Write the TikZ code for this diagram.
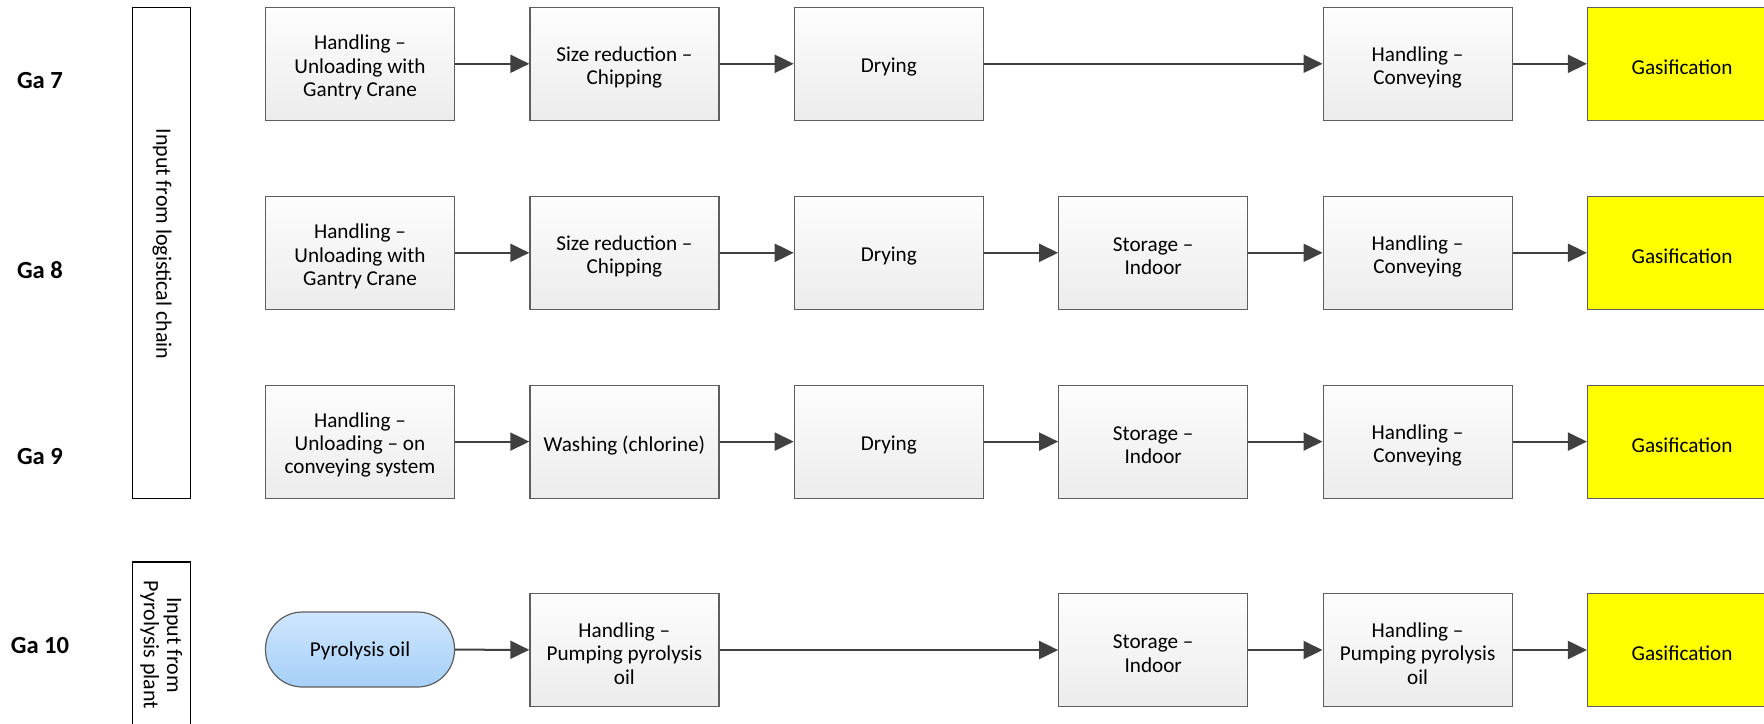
\documentclass[tikz,border=0pt]{standalone}
\usepackage{fontspec}
\setmainfont{Carlito}
\usetikzlibrary{arrows.meta}
\definecolor{boxedge}{HTML}{5E5E5E}
\definecolor{flowline}{HTML}{404040}
\definecolor{gasyellow}{HTML}{FFFF00}
\definecolor{boxtop}{HTML}{FDFDFD}
\definecolor{boxbot}{HTML}{ECECEC}
\definecolor{oiltop}{HTML}{CFE7FF}
\definecolor{oilbot}{HTML}{A6CFF8}
\begin{document}
\begin{tikzpicture}[x=0.5pt,y=-0.5pt,
  boxtext/.style={inner sep=0pt, align=center, yshift=-1.8pt,
    font=\fontsize{10.6}{11.6}\selectfont},
  shapebase/.style={draw=boxedge, line width=0.6pt, inner sep=0pt,
    minimum width=94.5pt, minimum height=56.5pt},
  proc/.style={shapebase, top color=boxtop, bottom color=boxbot,
    label={[boxtext]center:{#1}}},
  gasbox/.style={shapebase, fill=gasyellow, label={[boxtext]center:{#1}}},
  oilbox/.style={draw=boxedge, line width=0.6pt, top color=oiltop, bottom color=oilbot,
    rounded corners=18.5pt, minimum width=94.5pt, minimum height=37.5pt, inner sep=0pt,
    label={[boxtext, yshift=1pt]center:{#1}}},
  inbox/.style={draw=black, line width=0.6pt, fill=white, inner sep=0pt},
  intext/.style={rotate=-90, align=center, inner sep=0pt,
    font=\fontsize{11}{11.6}\selectfont},
  galabel/.style={font=\fontsize{12.3}{14}\bfseries\selectfont, inner sep=0pt},
  flow/.style={draw=flowline, line width=1pt, -{Triangle[length=9.5pt,width=9pt]}}
]
\useasboundingbox (0,0) rectangle (1764,723);
\clip (0,0) rectangle (1764,723);

% row labels
\node[galabel] (ga7)  at (40,81)  {Ga 7};
\node[galabel] (ga8)  at (40,270) {Ga 8};
\node[galabel] (ga9)  at (40,457) {Ga 9};
\node[galabel] (ga10) at (40,646) {Ga 10};

% input boxes on the left
\node[inbox, minimum width=29pt, minimum height=245.4pt] (inlog) at (161.3,252.7) {};
\node[intext] (inlogtxt) at (162,244) {Input from logistical chain};
\node[inbox, minimum width=29pt, minimum height=83pt] (inpyr) at (161.3,645) {};
\node[intext] (inpyrtxt) at (161.3,645) {Input from\\Pyrolysis plant};

% Ga 7
\node[proc={Handling --\\Unloading with\\Gantry Crane}] (a1) at (360,63.8) {};
\node[proc={Size reduction --\\Chipping}] (a2) at (624.4,63.8) {};
\node[proc={Drying}] (a3) at (888.8,63.8) {};
\node[proc={Handling --\\Conveying}] (a5) at (1417.6,63.8) {};
\node[gasbox={Gasification}] (a6) at (1682,63.8) {};
\draw[flow] (a1) -- (a2);
\draw[flow] (a2) -- (a3);
\draw[flow] (a3) -- (a5);
\draw[flow] (a5) -- (a6);

% Ga 8
\node[proc={Handling --\\Unloading with\\Gantry Crane}] (b1) at (360,252.8) {};
\node[proc={Size reduction --\\Chipping}] (b2) at (624.4,252.8) {};
\node[proc={Drying}] (b3) at (888.8,252.8) {};
\node[proc={Storage --\\Indoor}] (b4) at (1153.2,252.8) {};
\node[proc={Handling --\\Conveying}] (b5) at (1417.6,252.8) {};
\node[gasbox={Gasification}] (b6) at (1682,252.8) {};
\draw[flow] (b1) -- (b2);
\draw[flow] (b2) -- (b3);
\draw[flow] (b3) -- (b4);
\draw[flow] (b4) -- (b5);
\draw[flow] (b5) -- (b6);

% Ga 9
\node[proc={Handling --\\Unloading -- on\\conveying system}] (c1) at (360,441.6) {};
\node[proc={Washing (chlorine)}] (c2) at (624.4,441.6) {};
\node[proc={Drying}] (c3) at (888.8,441.6) {};
\node[proc={Storage --\\Indoor}] (c4) at (1153.2,441.6) {};
\node[proc={Handling --\\Conveying}] (c5) at (1417.6,441.6) {};
\node[gasbox={Gasification}] (c6) at (1682,441.6) {};
\draw[flow] (c1) -- (c2);
\draw[flow] (c2) -- (c3);
\draw[flow] (c3) -- (c4);
\draw[flow] (c4) -- (c5);
\draw[flow] (c5) -- (c6);

% Ga 10
\node[oilbox={Pyrolysis oil}] (d1) at (360,649.5) {};
\node[proc={Handling --\\Pumping pyrolysis\\oil}] (d2) at (624.4,650) {};
\node[proc={Storage --\\Indoor}] (d4) at (1153.2,650) {};
\node[proc={Handling --\\Pumping pyrolysis\\oil}] (d5) at (1417.6,650) {};
\node[gasbox={Gasification}] (d6) at (1682,650) {};
\draw[flow] (d1) -- (d2);
\draw[flow] (d2) -- (d4);
\draw[flow] (d4) -- (d5);
\draw[flow] (d5) -- (d6);
\end{tikzpicture}
\end{document}
